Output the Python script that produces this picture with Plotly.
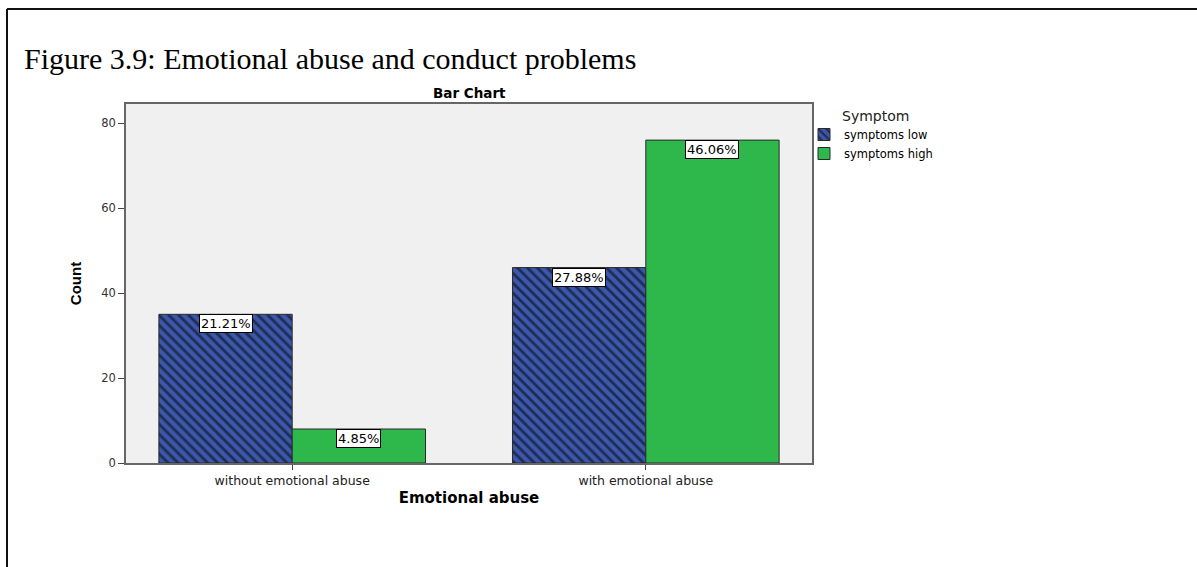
import plotly.graph_objects as go

# Counts of conduct-problem symptom levels by emotional-abuse exposure
categories = ["without emotional abuse", "with emotional abuse"]
symptoms_low = [35, 46]
symptoms_high = [8, 76]
series_names = ["symptoms low", "symptoms high"]
y_ticks = [0, 20, 40, 60, 80]

total = sum(symptoms_low) + sum(symptoms_high)

BLUE = "#3D58AA"
GREEN = "#2EB84B"
BAR_GAP = 0.246
SANS = "DejaVu Sans, Liberation Sans, Arial, sans-serif"
SERIF = "Liberation Serif, Times New Roman, serif"

# Plot-area geometry in pixels, used to place page-level text in paper units
W, H = 1197, 567
L, R, T, B = 126, 385, 104, 104
PW, PH = W - L - R, H - T - B


def px_x(x):
    return (x - L) / PW


def px_y(y):
    return (H - B - y) / PH


fig = go.Figure()
fig.add_trace(go.Bar(
    x=categories, y=symptoms_low, name=series_names[0],
    marker=dict(color=BLUE, line=dict(color="#2a2a2a", width=1),
                pattern=dict(shape="\\", fgcolor="black", size=7,
                             solidity=0.4, fillmode="overlay")),
))
fig.add_trace(go.Bar(
    x=categories, y=symptoms_high, name=series_names[1],
    marker=dict(color=GREEN, line=dict(color="#2a2a2a", width=1)),
))

# Percentage-of-total labels in boxes at the top of each bar
half = (1 - BAR_GAP) / 4
for i in range(len(categories)):
    for vals, off in ((symptoms_low, -half), (symptoms_high, half)):
        fig.add_annotation(
            x=i + off, y=vals[i], xref="x", yref="y",
            text=f"{vals[i] / total * 100:.2f}%", showarrow=False,
            yanchor="top", xanchor="center",
            bgcolor="white", bordercolor="black", borderwidth=1, borderpad=1,
            font=dict(family=SANS, size=13, color="black"),
        )

# Figure caption
fig.add_annotation(
    x=px_x(22), y=px_y(59), xref="paper", yref="paper",
    text="Figure 3.9: Emotional abuse and conduct problems",
    showarrow=False, xanchor="left", yanchor="middle",
    font=dict(family=SERIF, size=30, color="black"),
)
# Chart title
fig.add_annotation(
    x=0.5, y=px_y(93), xref="paper", yref="paper", text="<b>Bar Chart</b>",
    showarrow=False, xanchor="center", yanchor="middle",
    font=dict(family=SANS, size=13.5, color="black"),
)
# Legend heading
fig.add_annotation(
    x=px_x(840), y=px_y(116), xref="paper", yref="paper", text="Symptom",
    showarrow=False, xanchor="left", yanchor="middle",
    font=dict(family=SANS, size=14, color="#222"),
)

# Page frame along the top and left edges
fig.add_shape(type="line", xref="paper", yref="paper",
              x0=px_x(7), x1=px_x(W + 5), y0=px_y(9), y1=px_y(9),
              line=dict(color="#111", width=2))
fig.add_shape(type="line", xref="paper", yref="paper",
              x0=px_x(7), x1=px_x(7), y0=px_y(9), y1=px_y(H + 5),
              line=dict(color="#111", width=2))

fig.update_layout(
    width=W, height=H,
    margin=dict(l=L, r=R, t=T, b=B),
    paper_bgcolor="white", plot_bgcolor="#F0F0F0",
    barmode="group", bargap=BAR_GAP, bargroupgap=0,
    font=dict(family=SANS, color="#222"),
    showlegend=True,
    legend=dict(
        x=px_x(804), y=px_y(120), xanchor="left", yanchor="top",
        font=dict(family=SANS, size=11.5, color="black"),
        bgcolor="rgba(0,0,0,0)", traceorder="normal",
    ),
)
fig.update_xaxes(
    type="category", range=[-0.47, 1.47],
    showline=True, linecolor="#666", linewidth=1.5, mirror=True,
    ticks="outside", ticklen=5, tickcolor="#444",
    tickfont=dict(family=SANS, size=12.5, color="#222"),
    title=dict(text="<b>Emotional abuse</b>", standoff=6,
               font=dict(family=SANS, size=15, color="black")),
    showgrid=False, fixedrange=True,
)
fig.update_yaxes(
    range=[0, 84.5], tickvals=y_ticks,
    showline=True, linecolor="#666", linewidth=1.5, mirror=True,
    ticks="outside", ticklen=6, tickcolor="#444",
    tickfont=dict(family=SANS, size=11.5, color="#333"),
    title=dict(text="<b>Count</b>", standoff=16,
               font=dict(family="Liberation Sans, Arial", size=15, color="black")),
    showgrid=False, zeroline=False, fixedrange=True,
)

fig.write_html("out.html")
